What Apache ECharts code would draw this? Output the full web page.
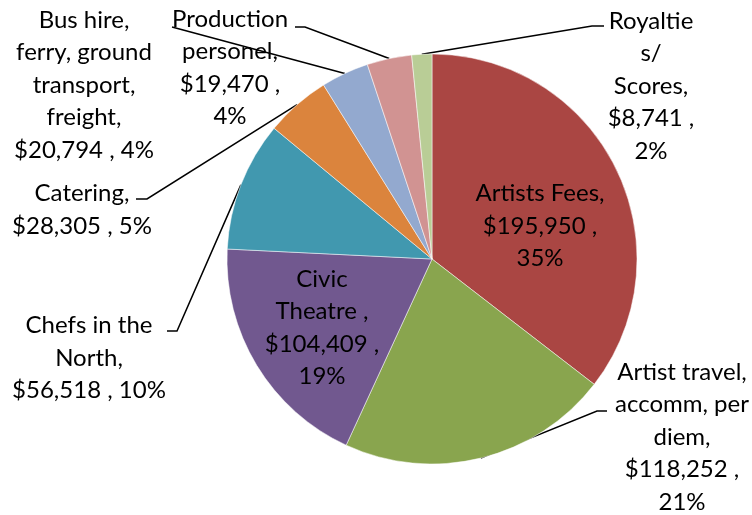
<!DOCTYPE html>
<html>
<head>
<meta charset="utf-8">
<script src="https://cdn.jsdelivr.net/npm/echarts@6/dist/echarts.min.js"></script>
<style>
html,body{margin:0;padding:0;background:#fff;}
#chart{width:752px;height:515px;}
</style>
</head>
<body>
<div id="chart"></div>
<script>
// ---- data ----
const categories = ['Artists Fees', 'Artist travel, accomm, per diem', 'Civic Theatre', 'Chefs in the North', 'Catering', 'Bus hire, ferry, ground transport, freight', 'Production personel', 'Royalties/ Scores'];
const values = [195950, 118252, 104409, 56518, 28305, 20794, 19470, 8741];
const labelTemplates = [
  'Artists Fees,\n{v} ,\n{p}',
  'Artist travel,\naccomm, per\ndiem,\n{v} ,\n{p}',
  'Civic\nTheatre ,\n{v} ,\n{p}',
  'Chefs in the\nNorth,\n{v} , {p}',
  'Catering,\n{v} , {p}',
  'Bus hire,\nferry, ground\ntransport,\nfreight,\n{v} , {p}',
  'Production\npersonel,\n{v} ,\n{p}',
  'Royaltie\ns/\nScores,\n{v} ,\n{p}'
];
const colors = ['#AA4643', '#89A54E', '#71588F', '#4198AF', '#DB843D', '#93A9CF', '#D19392', '#B9CD96'];

// ---- layout (label anchors & leader line bends, pixels) ----
const labelCenters = [[540, 226], [682, 437], [322, 328], [89, 358], [82, 210], [84, 85], [230, 68], [651, 86]];
const leaderBends = [null, [[597, 411], [607, 411]], null, [[177, 331], [167, 331]], [[147, 199], [136, 199]], [[172, 27]], [[305, 27], [295, 27]], [[592, 26], [604, 26]]];

const fmtMoney = v => '$' + v.toLocaleString('en-US');

const data = categories.map((c, i) => {
  const item = { name: c, value: values[i], itemStyle: { color: colors[i] } };
  if (!leaderBends[i]) item.labelLine = { show: false };
  return item;
});

const chart = echarts.init(document.getElementById('chart'), null, { renderer: 'canvas' });
chart.setOption({
  animation: false,
  series: [{
    type: 'pie',
    center: [432, 259],
    radius: 205,
    startAngle: 90,
    clockwise: true,
    avoidLabelOverlap: false,
    emphasis: { disabled: true },
    itemStyle: { borderColor: '#ffffff', borderWidth: 0.5 },
    label: {
      show: true,
      position: 'outside',
      color: '#000',
      fontFamily: 'Lato',
      fontSize: 24,
      lineHeight: 32.5,
      align: 'center',
      formatter: p => labelTemplates[p.dataIndex]
        .replace('{v}', fmtMoney(p.value))
        .replace('{p}', Math.round(p.percent) + '%')
    },
    labelLine: { show: true, lineStyle: { color: '#000', width: 1.5 } },
    labelLayout: function (params) {
      const i = params.dataIndex;
      const out = { x: labelCenters[i][0], y: labelCenters[i][1], align: 'center', verticalAlign: 'middle' };
      if (leaderBends[i] && params.labelLinePoints) {
        out.labelLinePoints = [params.labelLinePoints[0]].concat(leaderBends[i]);
      }
      return out;
    },
    data: data
  }]
});
</script>
</body>
</html>
